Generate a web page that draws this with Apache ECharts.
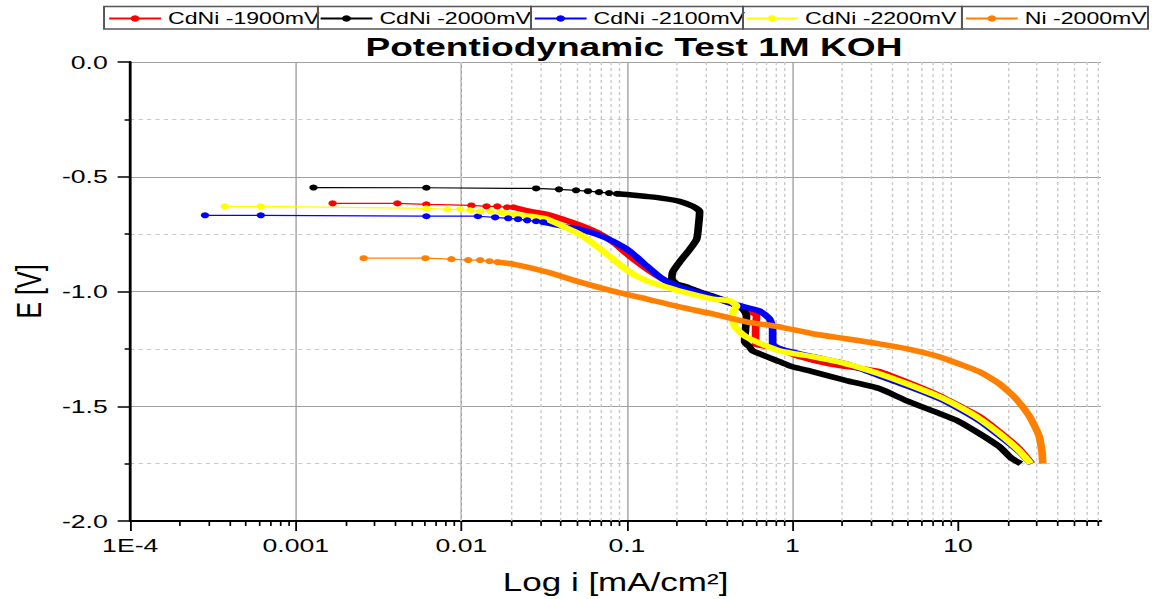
<!DOCTYPE html>
<html>
<head>
<meta charset="utf-8">
<script src="https://cdn.jsdelivr.net/npm/echarts@6/dist/echarts.min.js"></script>
<style>
  html, body { margin: 0; padding: 0; background: #fff; overflow: hidden; }
  /* the source picture is stretched sideways, so the chart is too */
  #main { width: 824px; height: 599px; transform: scaleX(1.4); transform-origin: 0 0; }
</style>
</head>
<body>
<div id="main"></div>
<script>
// current density i [mA/cm2], potential E [V]
const xTickValues = [1e-4, 0.001, 0.01, 0.1, 1, 10];
const xTickLabels = ['1E-4', '0.001', '0.01', '0.1', '1', '10'];
const xMin = 1e-4, xMax = 73;

const cdni1900Head = [[0.00167, -0.616], [0.00411, -0.616], [0.00615, -0.620], [0.0115, -0.625],
  [0.0142, -0.629], [0.0165, -0.629], [0.0189, -0.633], [0.0206, -0.633]];
const cdni1900Body = [[0.0261, -0.651], [0.0330, -0.664], [0.0411, -0.685], [0.0521, -0.711],
  [0.0659, -0.742], [0.0824, -0.785], [0.104, -0.846], [0.132, -0.902], [0.165, -0.946],
  [0.208, -0.976], [0.264, -1.002], [0.330, -1.024], [0.436, -1.054], [0.551, -1.085],
  [0.607, -1.106], [0.599, -1.163], [0.599, -1.228], [0.659, -1.236], [0.836, -1.249],
  [1.06, -1.280], [1.67, -1.315], [2.64, -1.336], [3.34, -1.349], [4.86, -1.393],
  [7.69, -1.453], [10.1, -1.497], [13.4, -1.544], [17.7, -1.610], [23.3, -1.683], [27.9, -1.75]];

const cdni2000Head = [[0.00128, -0.547], [0.00615, -0.548], [0.0283, -0.551], [0.0389, -0.555],
  [0.0493, -0.559], [0.0582, -0.563], [0.0678, -0.567], [0.078, -0.571], [0.0871, -0.574]];
const cdni2000Body = [[0.100, -0.577], [0.132, -0.586], [0.165, -0.594], [0.208, -0.607],
  [0.250, -0.629], [0.275, -0.651], [0.272, -0.698], [0.264, -0.772], [0.240, -0.816],
  [0.208, -0.872], [0.189, -0.915], [0.187, -0.946], [0.200, -0.967], [0.230, -0.980],
  [0.275, -1.002], [0.330, -1.020], [0.417, -1.046], [0.500, -1.076], [0.528, -1.106],
  [0.521, -1.163], [0.514, -1.219], [0.551, -1.241], [0.574, -1.258], [0.836, -1.306],
  [1.00, -1.328], [1.32, -1.349], [2.11, -1.388], [3.34, -1.423], [4.86, -1.475],
  [7.69, -1.531], [10.1, -1.566], [13.4, -1.618], [17.7, -1.675], [21.1, -1.727], [24.0, -1.75]];

const cdni2100Head = [[0.000283, -0.668], [0.000615, -0.668], [0.00615, -0.672], [0.0126, -0.672],
  [0.0160, -0.677], [0.0192, -0.681], [0.0220, -0.685], [0.0250, -0.690], [0.0283, -0.694],
  [0.0312, -0.698]];
const cdni2100Body = [[0.0411, -0.716], [0.0521, -0.729], [0.0659, -0.751], [0.0824, -0.781],
  [0.104, -0.824], [0.132, -0.889], [0.165, -0.946], [0.208, -0.980], [0.264, -1.002],
  [0.330, -1.024], [0.436, -1.054], [0.632, -1.085], [0.726, -1.119], [0.759, -1.163],
  [0.759, -1.228], [0.836, -1.249], [1.32, -1.284], [2.11, -1.315], [3.34, -1.367],
  [4.86, -1.410], [7.69, -1.466], [10.1, -1.510], [13.4, -1.562], [17.7, -1.627],
  [23.3, -1.696], [27.5, -1.75]];

const cdni2200Head = [[0.000373, -0.629], [0.000615, -0.629], [0.00615, -0.638], [0.00824, -0.642],
  [0.00987, -0.642], [0.0113, -0.646], [0.0130, -0.651], [0.0150, -0.651], [0.0172, -0.655]];
const cdni2200Body = [[0.0206, -0.664], [0.0261, -0.672], [0.0330, -0.685], [0.0411, -0.716],
  [0.0521, -0.751], [0.0659, -0.803], [0.0824, -0.859], [0.104, -0.915], [0.132, -0.954],
  [0.165, -0.976], [0.208, -0.998], [0.330, -1.033], [0.417, -1.041], [0.460, -1.063],
  [0.436, -1.089], [0.436, -1.119], [0.448, -1.150], [0.480, -1.176], [0.551, -1.206],
  [0.836, -1.258], [1.32, -1.284], [2.11, -1.315], [3.34, -1.358], [4.86, -1.401],
  [7.69, -1.458], [10.1, -1.501], [13.4, -1.553], [17.7, -1.618], [23.3, -1.692], [27.5, -1.75]];

const ni2000Head = [[0.00257, -0.855], [0.00607, -0.855], [0.00871, -0.859], [0.0110, -0.863],
  [0.0130, -0.863], [0.0148, -0.868], [0.0165, -0.872]];
const ni2000Body = [[0.0206, -0.881], [0.0330, -0.915], [0.0521, -0.959], [0.0824, -0.998],
  [0.132, -1.033], [0.208, -1.067], [0.330, -1.098], [0.528, -1.132], [0.836, -1.154],
  [1.32, -1.184], [2.11, -1.206], [3.34, -1.228], [4.86, -1.249], [7.69, -1.284],
  [10.1, -1.315], [13.4, -1.349], [17.7, -1.401], [22.3, -1.466], [26.8, -1.540],
  [30.8, -1.627], [32.1, -1.696], [32.5, -1.75]];

const curves = [
  { name: 'CdNi -1900mV', color: '#ff0000', head: cdni1900Head, body: cdni1900Body },
  { name: 'CdNi -2000mV', color: '#000000', head: cdni2000Head, body: cdni2000Body },
  { name: 'CdNi -2100mV', color: '#0000ff', head: cdni2100Head, body: cdni2100Body },
  { name: 'CdNi -2200mV', color: '#ffff00', head: cdni2200Head, body: cdni2200Body },
  { name: 'Ni -2000mV', color: '#ff8000', head: ni2000Head, body: ni2000Body }
];

// legend boxes (left edge of each item, frame edges)
const legendLeft = [77, 228, 381, 532, 689];
const legendFrames = [74.3, 227.1, 379.3, 530.7, 687.1, 820];

// minor log positions 2..9 x 10^n
const minorValues = [];
xTickValues.forEach(d => {
  for (let k = 2; k <= 9; k++) {
    if (k * d <= xMax) minorValues.push(+(k * d).toPrecision(3));
  }
});

const font = 'Liberation Sans, Arial, sans-serif';

let series = [{
  type: 'line',
  data: [],
  z: 1,
  silent: true,
  markLine: {
    z: 1,
    silent: true,
    symbol: ['none', 'none'],
    animation: false,
    label: { show: false },
    lineStyle: { color: '#c8c8c8', width: 1, type: [3, 3] },
    data: minorValues.map(v => ({ xAxis: v }))
  }
}];

curves.forEach(c => {
  series.push({
    type: 'line',
    name: c.name,
    data: c.head,
    symbol: 'circle',
    symbolSize: 6,
    showSymbol: true,
    lineStyle: { width: 1.2, color: c.color },
    itemStyle: { color: c.color },
    z: 10
  });
  series.push({
    type: 'line',
    name: c.name,
    data: [c.head[c.head.length - 1]].concat(c.body),
    symbol: 'none',
    smooth: 0.2,
    lineStyle: { width: 5.5, color: c.color },
    itemStyle: { color: c.color },
    z: 10
  });
});

let legends = curves.map((c, idx) => ({
  data: [c.name],
  left: legendLeft[idx],
  top: 10,
  padding: 0,
  itemWidth: 37,
  itemHeight: 8,
  selectedMode: false,
  textStyle: { fontSize: 16.5, fontFamily: font, color: '#000' }
}));

let frames = [];
for (let k = 0; k < 5; k++) {
  frames.push({
    type: 'rect',
    z: 100,
    silent: true,
    shape: { x: legendFrames[k], y: 6.5, width: legendFrames[k + 1] - legendFrames[k], height: 22.5 },
    style: { fill: 'none', stroke: '#555', lineWidth: 1.4 }
  });
}

const myChart = echarts.init(document.getElementById('main'), null, { renderer: 'svg' });

const option = {
  animation: false,
  backgroundColor: '#fff',
  title: {
    text: 'Potentiodynamic Test 1M KOH',
    left: 261,
    top: 33,
    padding: 0,
    textStyle: { fontSize: 26.5, fontWeight: 'bold', fontFamily: font, color: '#000' }
  },
  legend: legends,
  graphic: frames,
  grid: { left: 92.1, right: 37.6, top: 62, bottom: 76 },
  xAxis: [{
    type: 'log',
    min: xMin,
    max: xMax,
    position: 'bottom',
    name: 'Log i [mA/cm²]',
    nameLocation: 'middle',
    nameGap: 48,
    nameTextStyle: { fontSize: 25, fontFamily: font, color: '#000' },
    axisLine: { show: true, onZero: false, lineStyle: { color: '#000', width: 2 } },
    axisTick: { show: true, customValues: xTickValues, length: 10, lineStyle: { color: '#000', width: 1.3 } },
    axisLabel: {
      customValues: xTickValues,
      margin: 15,
      fontSize: 19,
      fontFamily: font,
      color: '#000',
      formatter: v => {
        const k = xTickValues.findIndex(t => Math.abs(Math.log10(t) - Math.log10(v)) < 1e-6);
        return k >= 0 ? xTickLabels[k] : '';
      }
    },
    splitLine: { show: true, showMinLine: false, showMaxLine: false, lineStyle: { color: '#a0a0a0', width: 1 } }
  }, {
    // carries only the short minor ticks
    type: 'log',
    min: xMin,
    max: xMax,
    position: 'bottom',
    axisLine: { show: false, onZero: false },
    axisTick: { show: true, customValues: minorValues, length: 5, lineStyle: { color: '#000', width: 1.2 } },
    axisLabel: { show: false },
    splitLine: { show: false }
  }],
  yAxis: {
    type: 'value',
    min: -2,
    max: 0,
    interval: 0.5,
    name: 'E [V]',
    nameLocation: 'middle',
    nameGap: 60,
    nameTextStyle: { fontSize: 25, fontFamily: font, color: '#000' },
    axisLine: { show: true, onZero: false, lineStyle: { color: '#000', width: 2 } },
    axisTick: { show: true, length: 9, lineStyle: { color: '#000', width: 1.5 } },
    minorTick: { show: true, splitNumber: 2, length: 4, lineStyle: { color: '#000', width: 1.5 } },
    axisLabel: { margin: 16, fontSize: 19, fontFamily: font, color: '#000', formatter: v => v.toFixed(1) },
    splitLine: { show: true, lineStyle: { color: '#a0a0a0', width: 1 } },
    minorSplitLine: { show: true, lineStyle: { color: '#c8c8c8', width: 1, type: [3, 3] } }
  },
  series: series
};

myChart.setOption(option);
</script>
</body>
</html>
